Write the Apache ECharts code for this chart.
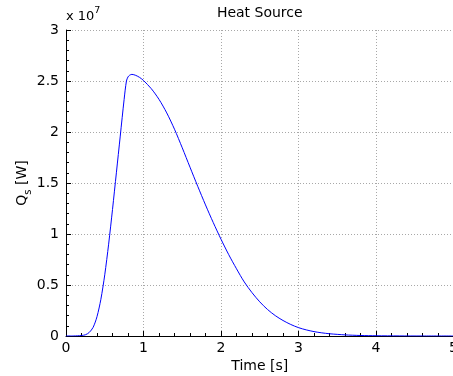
<!DOCTYPE html>
<html>
<head>
<meta charset="utf-8">
<script src="https://cdn.jsdelivr.net/npm/echarts@6/dist/echarts.min.js"></script>
<style>
html,body{margin:0;padding:0;background:#fff;}
#chart{width:453px;height:376px;}
</style>
</head>
<body>
<div id="chart"></div>
<script>
// Time [s]
const timeS = [0, 0.1, 0.15, 0.2, 0.25, 0.3, 0.35, 0.4, 0.45, 0.5, 0.55, 0.6, 0.65, 0.7, 0.75, 0.78, 0.8, 0.82, 0.85, 0.9, 0.95, 1.0,
  1.1, 1.2, 1.3, 1.4, 1.5, 1.6, 1.7, 1.8, 1.9, 2.0, 2.1, 2.2, 2.3, 2.4, 2.5, 2.6, 2.7, 2.8, 2.9, 3.0,
  3.1, 3.2, 3.3, 3.4, 3.6, 3.8, 4.0, 4.3, 4.6, 5.0];
// Q_s in units of 10^7 W
const heatQs = [0, 0.0005, 0.002, 0.005, 0.012, 0.035, 0.085, 0.19, 0.36, 0.6, 0.9, 1.24, 1.6, 1.96, 2.32, 2.5, 2.54, 2.556, 2.565, 2.555, 2.535, 2.505,
  2.425, 2.32, 2.187, 2.027, 1.845, 1.655, 1.467, 1.285, 1.112, 0.949, 0.797, 0.659, 0.53, 0.425, 0.335, 0.26, 0.2, 0.152, 0.113, 0.082,
  0.06, 0.043, 0.031, 0.022, 0.011, 0.005, 0.0025, 0.0008, 0.0002, 0];
const xTicks = [0, 1, 2, 3, 4, 5];
const yTicks = [0, 0.5, 1, 1.5, 2, 2.5, 3];
const titleText = 'Heat Source';
const xLabel = 'Time [s]';
const yLabelMain = 'Q';
const yLabelSub = 's';
const yLabelRest = ' [W]';
const exponentText = '7';

const FONT = 'DejaVu Sans';
const FS = 14;
const gridCol = '#a8a8a8';

const chart = echarts.init(document.getElementById('chart'), null, {renderer: 'canvas'});
const option = {
  animation: false,
  backgroundColor: '#fff',
  grid: {left: 66, top: 30, width: 387.5, height: 306, containLabel: false, outerBoundsMode: 'none'},
  xAxis: {
    type: 'value', min: xTicks[0], max: xTicks[xTicks.length - 1], interval: 1,
    axisLine: {show: true, onZero: false, lineStyle: {color: '#000', width: 1}},
    axisTick: {show: true, inside: true, length: 5, lineStyle: {color: '#000'}},
    minorTick: {show: true, splitNumber: 5, length: 3, lineStyle: {color: '#000'}},
    axisLabel: {color: '#000', fontFamily: FONT, fontSize: FS, margin: 5, hideOverlap: false,
      formatter: v => xTicks.includes(v) ? String(v) : ''},
    splitLine: {show: true, lineStyle: {color: gridCol, type: [1, 2], width: 1}}
  },
  yAxis: {
    type: 'value', min: yTicks[0], max: yTicks[yTicks.length - 1], interval: 0.5,
    axisLine: {show: true, onZero: false, lineStyle: {color: '#000', width: 1}},
    axisTick: {show: true, inside: true, length: 5, lineStyle: {color: '#000'}},
    minorTick: {show: true, splitNumber: 5, length: 3, lineStyle: {color: '#000'}},
    axisLabel: {color: '#000', fontFamily: FONT, fontSize: FS, margin: 7,
      formatter: v => String(v)},
    splitLine: {show: true, lineStyle: {color: gridCol, type: [1, 2], width: 1}}
  },
  series: [{
    type: 'line',
    data: timeS.map((t, i) => [t, heatQs[i]]),
    showSymbol: false,
    smooth: 0.3,
    lineStyle: {color: '#0000ff', width: 1},
    itemStyle: {color: '#0000ff'},
    clip: true
  }],
  graphic: [
    {type: 'text', x: 259.75, y: 13, style: {text: titleText, fill: '#000', font: FS + 'px "' + FONT + '"', align: 'center', verticalAlign: 'middle'}},
    {type: 'text', x: 259.75, y: 366, style: {text: xLabel, fill: '#000', font: FS + 'px "' + FONT + '"', align: 'center', verticalAlign: 'middle'}},
    {type: 'text', x: 66, y: 28, style: {
      text: 'x 10{sup|' + exponentText + '}', fill: '#000', fontFamily: FONT, fontSize: 13, align: 'left', verticalAlign: 'bottom',
      rich: {sup: {fontFamily: FONT, fontSize: 9.5, verticalAlign: 'top', lineHeight: 22, fill: '#000'}}
    }},
    {type: 'text', x: 22, y: 183, rotation: Math.PI / 2, style: {
      text: '{m|' + yLabelMain + '}{s|' + yLabelSub + '}{m|' + yLabelRest + '}', fill: '#000', align: 'center', verticalAlign: 'middle',
      rich: {
        m: {fontFamily: FONT, fontSize: FS, lineHeight: 22, verticalAlign: 'middle', fill: '#000'},
        s: {fontFamily: FONT, fontSize: 10, lineHeight: 22, verticalAlign: 'bottom', fill: '#000'}
      }
    }}
  ]
};
chart.setOption(option);
</script>
</body>
</html>
